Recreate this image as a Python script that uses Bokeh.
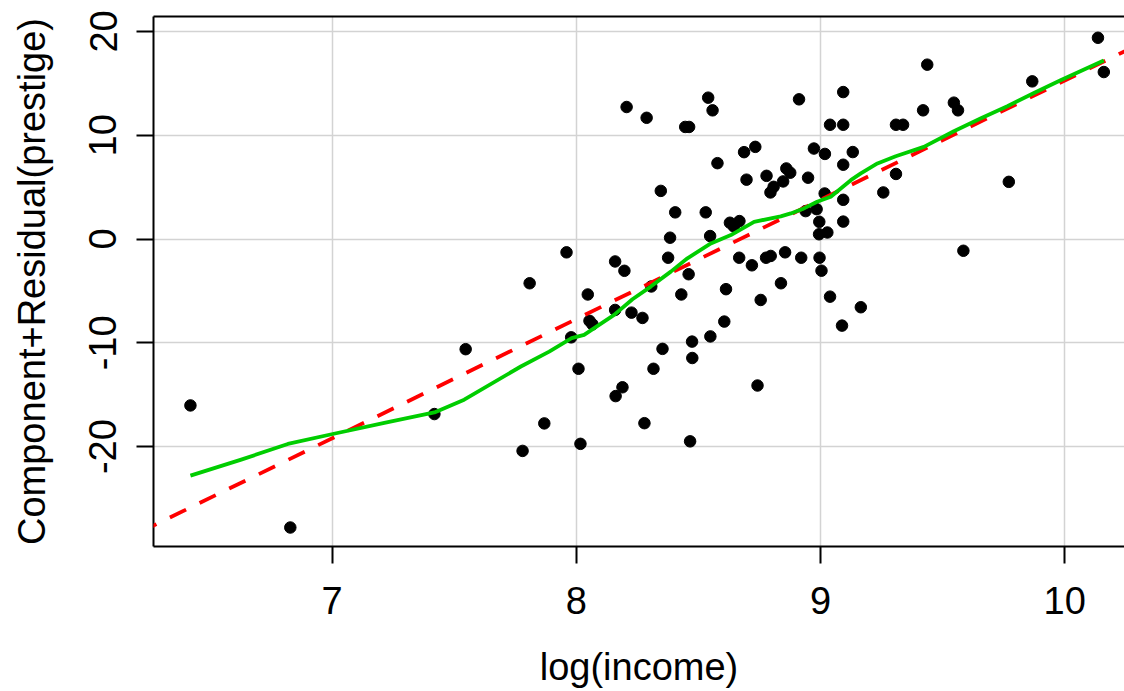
from bokeh.plotting import figure
from bokeh.models import Range1d, FixedTicker, LinearAxis, Slope
from bokeh.embed import file_html
from bokeh.resources import INLINE

# ---- data ----
log_income = [
    6.420, 6.829, 7.419, 7.547, 7.809, 7.869, 7.780,
    7.960, 8.159, 8.197, 8.384, 8.548, 8.376, 8.460, 8.047, 8.159, 8.054,
    8.066, 8.226, 8.271, 8.307, 8.430, 8.613, 8.606, 8.549, 8.474, 8.475,
    8.353, 8.316, 7.979, 8.009, 8.189, 8.161, 8.279, 8.017, 8.466, 8.742,
    8.667, 8.719, 8.777, 8.796, 8.855, 8.921, 8.996, 9.004, 8.838, 8.755,
    9.039, 9.088, 9.165,
    8.206, 8.288, 8.446, 8.462, 8.540, 8.558, 8.912, 9.093, 9.039, 9.093,
    8.346, 8.405, 8.530, 8.578, 8.687, 8.733, 8.973, 9.018, 9.132, 9.093,
    8.697, 8.779, 8.860, 8.876, 8.847, 8.949, 8.808, 8.795, 9.017, 9.093,
    8.939, 8.984, 8.629, 8.645, 8.668, 8.995, 9.093, 8.994, 9.028,
    9.437, 9.309, 9.338, 9.420, 9.546, 9.563, 9.867, 10.136, 10.160,
    9.309, 9.257, 9.771, 9.585,
]
comp_resid = [
    -16.03, -27.79, -16.86, -10.61, -4.26, -17.76, -20.41,
    -1.28, -2.16, -3.06, 0.13, 0.29, -1.80, -3.39, -5.34, -6.83, -7.88,
    -8.22, -7.09, -7.60, -4.57, -5.34, -4.83, -7.95, -9.38, -9.88, -11.46,
    -10.58, -12.50, -9.47, -12.50, -14.28, -15.13, -17.74, -19.73, -19.49, -14.11,
    -1.80, -2.53, -1.80, -1.63, -1.28, -1.80, -1.80, -3.05, -4.26, -5.87,
    -5.55, -8.34, -6.57,
    12.72, 11.68, 10.80, 10.80, 13.62, 12.40, 13.46, 14.16, 11.01, 11.01,
    4.64, 2.57, 2.57, 7.31, 8.37, 8.88, 8.72, 8.20, 8.38, 7.16,
    5.72, 6.09, 6.80, 6.39, 5.55, 5.91, 5.03, 4.49, 4.39, 3.78,
    2.69, 2.88, 1.57, 1.22, 1.73, 1.66, 1.68, 0.46, 0.63,
    16.80, 11.01, 11.01, 12.40, 13.14, 12.40, 15.19, 19.39, 16.09,
    6.27, 4.49, 5.51, -1.13,
]

# lowess smooth (green)
smooth_x = [6.420, 6.628, 6.819, 7.003, 7.214, 7.419, 7.541, 7.773, 7.889,
            7.981, 8.032, 8.155, 8.230, 8.305, 8.387, 8.455, 8.551, 8.633,
            8.728, 8.837, 8.878, 8.932, 8.986, 9.042, 9.083, 9.124, 9.165,
            9.233, 9.308, 9.423, 9.546, 9.655, 9.765, 9.874, 9.983, 10.160]
smooth_y = [-22.79, -21.25, -19.74, -18.78, -17.72, -16.70, -15.48, -12.28, -10.84,
            -9.55, -9.23, -7.31, -5.80, -4.58, -3.14, -1.86, -0.42, 0.38,
            1.66, 2.18, 2.47, 2.95, 3.59, 4.07, 4.87, 5.67, 6.32,
            7.28, 7.98, 8.88, 10.38, 11.61, 12.79, 14.07, 15.29, 17.21]

# linear fit (red dashed)
fit_slope = 11.49
fit_intercept = -99.63

x_ticks = [7, 8, 9, 10]
y_ticks = [-20, -10, 0, 10, 20]

FONT = "Liberation Sans"
FS = "38px"

p = figure(width=1124, height=691, output_backend="svg", toolbar_location=None,
           x_range=Range1d(6.2688, 10.2447), y_range=Range1d(-29.62, 21.44),
           min_border_left=153, min_border_right=0, min_border_top=16,
           min_border_bottom=145,
           x_axis_label="log(income)", y_axis_label="Component+Residual(prestige)")
p.outline_line_color = None
p.background_fill_color = "white"
p.border_fill_color = "white"

for ax in (p.xaxis[0], p.yaxis[0]):
    ax.axis_line_width = 2
    ax.axis_line_color = "black"
    ax.major_tick_line_width = 2
    ax.major_tick_line_color = "black"
    ax.major_tick_out = 17
    ax.major_tick_in = 0
    ax.minor_tick_out = 0
    ax.minor_tick_in = 0
    ax.major_label_text_font = FONT
    ax.major_label_text_font_size = FS
    ax.major_label_text_color = "black"
    ax.axis_label_text_font = FONT
    ax.axis_label_text_font_size = FS
    ax.axis_label_text_font_style = "normal"
    ax.axis_label_text_color = "black"

p.xaxis.ticker = FixedTicker(ticks=x_ticks)
p.yaxis.ticker = FixedTicker(ticks=y_ticks)
p.xaxis.major_label_overrides = {t: str(t) for t in x_ticks}
p.yaxis.major_label_overrides = {t: str(t) for t in y_ticks}
p.yaxis.major_label_orientation = "vertical"
p.xaxis.major_label_standoff = 23
p.xaxis.axis_label_standoff = 29
p.yaxis.major_label_standoff = 20
p.yaxis.axis_label_standoff = 34

top = LinearAxis(ticker=FixedTicker(ticks=[]), axis_line_width=2, axis_line_color="black",
                 major_tick_out=0, major_tick_in=0, minor_tick_out=0, minor_tick_in=0,
                 major_label_text_font_size="0px")
p.add_layout(top, "above")

p.xgrid.ticker = FixedTicker(ticks=x_ticks)
p.ygrid.ticker = FixedTicker(ticks=y_ticks)
for g in (p.xgrid[0], p.ygrid[0]):
    g.grid_line_color = "#D3D3D3"
    g.grid_line_width = 1.5

p.scatter(log_income, comp_resid, size=11.5, color="black")

p.add_layout(Slope(gradient=fit_slope, y_intercept=fit_intercept,
                   line_color="#FF0000", line_width=3.8, line_dash="18 15"))

gl = p.line(smooth_x, smooth_y, line_color="#00CD00", line_width=3.8, line_join="round")
gl.level = "overlay"

open("out.html", "w").write(file_html(p, INLINE))
